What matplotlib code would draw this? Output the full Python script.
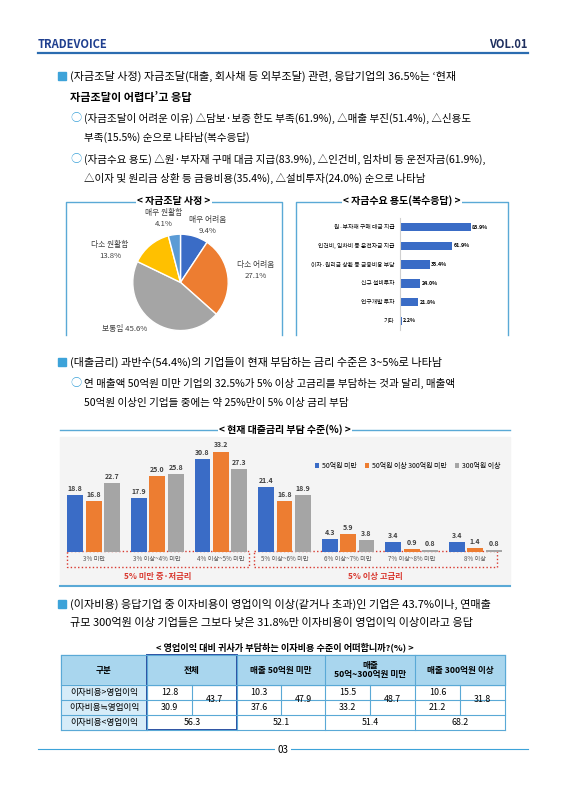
import matplotlib
matplotlib.use("Agg")
import matplotlib.pyplot as plt
from matplotlib.patches import Rectangle
import numpy as np

plt.rcParams['font.family'] = ['Noto Sans CJK KR', 'DejaVu Sans']

W, H = 566, 800
BLUE = "#3a6cc6"
ORANGE = "#ed7d31"
GREY = "#a5a5a5"
YELLOW = "#ffc000"
SKY = "#5b9bd5"
FRAME = "#5aa9d6"

# pie: funding situation
pie_labels = ["매우 어려움", "다소 어려움", "보통임", "다소 원활함", "매우 원활함"]
pie_values = [9.4, 27.1, 45.6, 13.8, 4.1]

# hbar: uses of funds
use_labels = ["원·부자재 구매 대금 지급", "인건비, 임차비 등 운전자금 지급",
              "이자·원리금 상환 등 금융비용 부담", "신규 설비투자", "연구개발 투자", "기타"]
use_values = [83.9, 61.9, 35.4, 24.0, 21.8, 2.2]

# grouped bars: loan interest rate level
rate_cats = ["3% 미만", "3% 이상~4% 미만", "4% 이상~5% 미만", "5% 이상~6% 미만",
             "6% 이상~7% 미만", "7% 이상~8% 미만", "8% 이상"]
series_names = ["50억원 미만", "50억원 이상 300억원 미만", "300억원 이상"]
small = [18.8, 17.9, 30.8, 21.4, 4.3, 3.4, 3.4]
mid = [16.8, 25.0, 33.2, 16.8, 5.9, 0.9, 1.4]
large = [22.7, 25.8, 27.3, 18.9, 3.8, 0.8, 0.8]

# table
tbl_groups = ["전체", "매출 50억원 미만", "매출\n50억~300억원 미만", "매출 300억원 이상"]
row_gt = [12.8, 10.3, 15.5, 10.6]
row_eq = [30.9, 37.6, 33.2, 21.2]
row_sum = [43.7, 47.9, 48.7, 31.8]
row_lt = [56.3, 52.1, 51.4, 68.2]

fig = plt.figure(figsize=(W / 100, H / 100), dpi=100)
bg = fig.add_axes([0, 0, 1, 1])
bg.set_xlim(0, W)
bg.set_ylim(H, 0)
bg.axis("off")


def T(x, y, s, size=7.6, **kw):
    kw.setdefault("va", "center")
    bg.text(x, y, s, fontsize=size, **kw)


def axpx(x, y, w, h):
    return fig.add_axes([x / W, 1 - (y + h) / H, w / W, h / H])


# header
T(38, 44, "TRADEVOICE", 8, color="#1f3f8f", weight="bold")
T(528, 44, "VOL.01", 8, color="#1f2f5f", weight="bold", ha="right")
bg.plot([38, 528], [53, 53], color="#2b6cb0", lw=1.6)

# section 1
def sq(x, y):
    bg.add_patch(Rectangle((x, y - 4), 8, 8, color="#3da3d9"))

def circ(x, y):
    T(x, y, "○", 8, color="#3da3d9")

sq(58, 76)
T(70, 76, "(자금조달 사정) 자금조달(대출, 회사채 등 외부조달) 관련, 응답기업의 36.5%는 ‘현재", 8)
T(70, 97, "자금조달이 어렵다’고 응답", 8, weight="bold")
circ(70, 118)
T(84, 118, "(자금조달이 어려운 이유) △담보·보증 한도 부족(61.9%), △매출 부진(51.4%), △신용도", 7.6)
T(84, 137, "부족(15.5%) 순으로 나타남(복수응답)", 7.6)
circ(70, 159)
T(84, 159, "(자금수요 용도) △원·부자재 구매 대금 지급(83.9%), △인건비, 임차비 등 운전자금(61.9%),", 7.6)
T(84, 178, "△이자 및 원리금 상환 등 금융비용(35.4%), △설비투자(24.0%) 순으로 나타남", 7.6)

# frames for small charts
for x0, x1, title in [(66, 282, "< 자금조달 사정 >"), (296, 508, "< 자금수요 용도(복수응답) >")]:
    bg.plot([x0, x0, x1, x1], [335, 202, 202, 335], color=FRAME, lw=1)
    T((x0 + x1) / 2, 201, title, 7.2, weight="bold", ha="center",
      bbox=dict(fc="white", ec="none", pad=1))

axp = axpx(88, 216, 185, 118)
axp.set_facecolor("#f2f2f2")
wedges, _ = axp.pie(pie_values, colors=[BLUE, ORANGE, GREY, YELLOW, SKY], startangle=90,
                    counterclock=False, radius=0.98,
                    wedgeprops=dict(edgecolor="white", linewidth=1))
axp.set_xlim(-1.9, 1.9)
axp.set_ylim(-1.05, 1.35)
axp.set_aspect("auto")
pos = [(0.55, 1.15), (1.55, 0.25), (-1.15, -0.95), (-1.45, 0.65), (-0.35, 1.3)]
for (px, py), lab, v in zip(pos, pie_labels, pie_values):
    axp.text(px, py, f"{lab}\n{v}%", fontsize=5.6, ha="center", va="center", color="#404040",
             linespacing=1.5) if lab != "보통임" else axp.text(px, py, f"{lab} {v}%", fontsize=5.6,
                                                              ha="center", va="center", color="#404040")

axh = axpx(400, 218, 80, 112)
y = np.arange(len(use_values))
axh.barh(y, use_values, color=BLUE, height=0.45)
axh.invert_yaxis()
axh.set_xlim(0, 95)
axh.set_yticks(y, use_labels, fontsize=4.2)
axh.tick_params(length=0, pad=4)
axh.set_xticks([])
for s in ["top", "right", "bottom"]:
    axh.spines[s].set_visible(False)
axh.spines["left"].set_color("#d0d0d0")
for yi, v in zip(y, use_values):
    axh.text(v + 1.5, yi, f"{v}%", fontsize=3.8, va="center", weight="bold")

# section 2
sq(58, 362)
T(70, 362, "(대출금리) 과반수(54.4%)의 기업들이 현재 부담하는 금리 수준은 3~5%로 나타남", 8)
circ(70, 383)
T(84, 383, "연 매출액 50억원 미만 기업의 32.5%가 5% 이상 고금리를 부담하는 것과 달리, 매출액", 7.6)
T(84, 403, "50억원 이상인 기업들 중에는 약 25%만이 5% 이상 금리 부담", 7.6)

bg.plot([60, 510], [430, 430], color=FRAME, lw=1)
bg.plot([60, 510], [586, 586], color=FRAME, lw=1.5)
T(285, 430, "< 현재 대출금리 부담 수준(%) >", 7.2, weight="bold", ha="center",
  bbox=dict(fc="white", ec="none", pad=1))
bg.add_patch(Rectangle((60, 437), 450, 147, color="#f4f4f4", zorder=-1))

axb = axpx(62, 440, 445, 112)
x = np.arange(len(rate_cats))
bw = 0.25
for k, (vals, c) in enumerate(zip([small, mid, large], [BLUE, ORANGE, GREY])):
    bars = axb.bar(x + (k - 1) * 0.29, vals, bw, color=c, label=series_names[k])
    for xi, v in zip(x + (k - 1) * 0.29, vals):
        axb.text(xi, v + 1, f"{v:.1f}", ha="center", va="bottom", fontsize=5, weight="bold",
                 color="#404040")
axb.set_xlim(-0.5, 6.5)
axb.set_ylim(0, 37)
axb.axis("off")
axb.legend(loc="upper right", ncol=3, frameon=False, fontsize=5, handlelength=0.6,
           handletextpad=0.4, columnspacing=1.2, bbox_to_anchor=(1.0, 0.86))
for xi, c in zip(x, rate_cats):
    T(62 + (xi + 0.5) * 445 / 7, 559, c, 4.5, ha="center", color="#555555")
for x0, x1 in [(67, 249), (254, 497)]:
    bg.add_patch(Rectangle((x0, 551), x1 - x0, 16, fill=False, ec="#d9382f", ls=":", lw=1))
T(158, 576, "5% 미만 중·저금리", 6, color="#d9382f", weight="bold", ha="center")
T(375, 576, "5% 이상 고금리", 6, color="#d9382f", weight="bold", ha="center")

# section 3
sq(58, 604)
T(70, 604, "(이자비용) 응답기업 중 이자비용이 영업이익 이상(같거나 초과)인 기업은 43.7%이나, 연매출", 8)
T(70, 623, "규모 300억원 이상 기업들은 그보다 낮은 31.8%만 이자비용이 영업이익 이상이라고 응답", 8)

T(285, 647, "< 영업이익 대비 귀사가 부담하는 이자비용 수준이 어떠합니까?(%) >", 6.6, weight="bold",
  ha="center")
tx = [61, 147, 237, 325, 415, 505]
ty = [655, 685, 700, 715, 730]
bg.add_patch(Rectangle((tx[0], ty[0]), tx[-1] - tx[0], ty[1] - ty[0], color="#a9d6ee"))
bg.add_patch(Rectangle((tx[0], ty[1]), tx[1] - tx[0], ty[-1] - ty[1], color="#d6ecf8"))
for yy in ty:
    bg.plot([tx[0], tx[-1]], [yy, yy], color="#5aa9d6", lw=0.8)
for xx in tx:
    bg.plot([xx, xx], [ty[0], ty[-1]], color="#5aa9d6", lw=0.8)
for i in range(4):
    mx = (tx[i + 1] + tx[i + 2]) / 2
    bg.plot([mx, mx], [ty[1], ty[3]], color="#5aa9d6", lw=0.8)
bg.add_patch(Rectangle((tx[1], ty[0]), tx[2] - tx[1], ty[-1] - ty[0], fill=False,
                       ec="#2b4ea0", lw=1.4))
T((tx[0] + tx[1]) / 2, 670, "구분", 6.2, ha="center", weight="bold")
for i, g in enumerate(tbl_groups):
    T((tx[i + 1] + tx[i + 2]) / 2, 670, g, 6.2, ha="center", weight="bold", linespacing=1.1)
for yy, lab in zip([692.5, 707.5, 722.5], ["이자비용>영업이익", "이자비용≒영업이익", "이자비용<영업이익"]):
    T((tx[0] + tx[1]) / 2, yy, lab, 6.2, ha="center")
for i in range(4):
    a, b = tx[i + 1], tx[i + 2]
    m = (a + b) / 2
    T((a + m) / 2, 692.5, f"{row_gt[i]}", 6.4, ha="center")
    T((a + m) / 2, 707.5, f"{row_eq[i]}", 6.4, ha="center")
    T((m + b) / 2, 700, f"{row_sum[i]}", 6.4, ha="center")
    T(m, 722.5, f"{row_lt[i]}", 6.4, ha="center")

bg.plot([38, 528], [749, 749], color="#3da3d9", lw=0.8)
T(283, 750, "03", 7, ha="center", bbox=dict(fc="white", ec="none", pad=2))

fig.savefig("out.png", dpi=100)
